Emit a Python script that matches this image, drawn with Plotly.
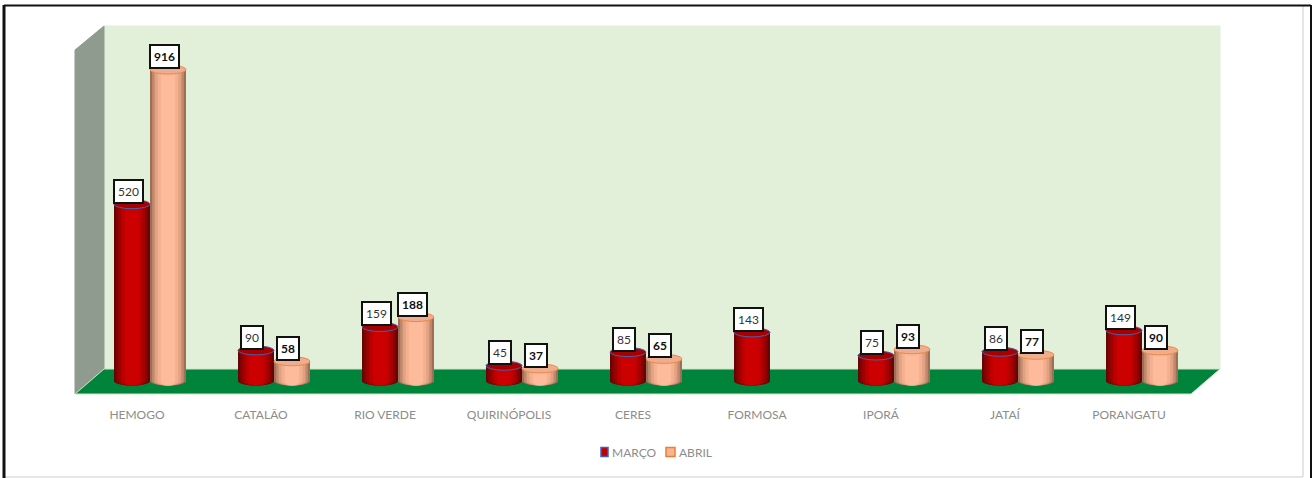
import plotly.graph_objects as go

W, H = 1312, 478
categories = ["HEMOGO", "CATALÃO", "RIO VERDE", "QUIRINÓPOLIS", "CERES", "FORMOSA", "IPORÁ", "JATAÍ", "PORANGATU"]
marco = [520, 90, 159, 45, 85, 143, 75, 86, 149]
abril = [916, 58, 188, 37, 65, None, 93, 77, 90]

# axis geometry
PX_LEFT, PX_RIGHT = 75, 1191
PX_BOTTOM, PX_TOP = 394, 26
PX_ZERO = 381
PX_PER_UNIT = 0.34
PX_PER_CAT = (PX_RIGHT - PX_LEFT) / 9
y_min = -(PX_BOTTOM - PX_ZERO) / PX_PER_UNIT
y_max = (PX_ZERO - PX_TOP) / PX_PER_UNIT
BAR_W = 36 / PX_PER_CAT
CAP_H = 4.5 / PX_PER_UNIT
OFF_M, OFF_A = -5 / PX_PER_CAT, 31 / PX_PER_CAT

def px(x): return x / W
def py(y): return 1 - y / H
def poly(pts, color, line=None):
    path = "M" + " L".join(f"{px(a)},{py(b)}" for a, b in pts) + " Z"
    return dict(type="path", xref="paper", yref="paper", path=path, fillcolor=color,
                line=dict(color=line or color, width=1), layer="below")
def frame_line(x0, y0, x1, y1, color, width):
    return dict(type="line", xref="paper", yref="paper", x0=px(x0), y0=py(y0), x1=px(x1), y1=py(y1),
                line=dict(color=color, width=width), layer="above")

red_steps = ["#640606", "#860303", "#a30101", "#bb0000", "#cc0000"]
peach_steps = ["#a06e54", "#c08a6e", "#dfa283", "#f3af90", "#fdbb9c"]
step_w = [1.0, 0.88, 0.74, 0.58, 0.4]

fig = go.Figure()
shapes = [
    poly([(104, 26), (1220, 26), (1220, 369), (104, 369)], "#E2EFD9"),
    poly([(75, 50), (104, 26), (104, 369), (75, 394)], "#8F9B8E"),
    poly([(75, 394), (1191, 394), (1220, 369), (104, 369)], "#00843C", "#CFE3C5"),
]

def add_series(vals, offset, steps, rim, cap, name):
    xs = [i + offset for i in range(len(vals))]
    for color, k in zip(steps, step_w):
        fig.add_trace(go.Bar(x=xs, y=vals, width=BAR_W * k, name=name,
                             marker=dict(color=color, line=dict(width=0)),
                             showlegend=False, hoverinfo="skip"))
        for x, v in zip(xs, vals):
            if v is None:
                continue
            shapes.append(dict(type="circle", xref="x", yref="y", layer="below", fillcolor=color,
                               x0=x - BAR_W * k / 2, x1=x + BAR_W * k / 2, y0=-CAP_H, y1=CAP_H,
                               line=dict(width=0)))
    for x, v in zip(xs, vals):
        if v is None:
            continue
        shapes.append(dict(type="circle", xref="x", yref="y", layer="above", fillcolor=cap,
                           x0=x - BAR_W / 2, x1=x + BAR_W / 2, y0=v - CAP_H, y1=v + CAP_H,
                           line=dict(color=rim, width=1)))

add_series(marco, OFF_M, red_steps, "#4A5FA8", "#A80000", "MARÇO")
add_series(abril, OFF_A, peach_steps, "#ED8A45", "#EFAD90", "ABRIL")

def add_labels(vals, offset, bold, dx):
    for i, v in enumerate(vals):
        if v is None:
            continue
        txt = f"<b>{v}</b>" if bold else str(v)
        fig.add_annotation(x=i + offset, y=v, text=txt, showarrow=False, xref="x", yref="y",
                           xshift=dx, yshift=13, bgcolor="white", bordercolor="#111111", borderwidth=2,
                           borderpad=3, font=dict(family="Lato", size=12, color="#333333" if not bold else "#111111"))

add_labels(marco, OFF_M, False, -4)
add_labels(abril, OFF_A, True, -4)

# legend: small swatches with real text beside them
LEGEND_Y = 452
for name, sx, sw, fill, rim in [("MARÇO", 601, 7, "#C00000", "#3F5FBF"), ("ABRIL", 666, 9, "#F8B595", "#ED7D31")]:
    shapes.append(dict(type="rect", xref="paper", yref="paper", layer="above", fillcolor=fill,
                       x0=px(sx), x1=px(sx + sw), y0=py(LEGEND_Y + 4.5), y1=py(LEGEND_Y - 4.5),
                       line=dict(color=rim, width=1.5)))
    fig.add_annotation(x=px(sx + sw + 3), y=py(LEGEND_Y), xref="paper", yref="paper", text=name,
                       showarrow=False, xanchor="left", yanchor="middle", borderpad=0,
                       font=dict(family="Lato", size=12, color="#8C8C8C"))

# outer frame
shapes += [
    frame_line(1303, 5, 1303, 477, "#E6E6E6", 2),
    frame_line(3, 477, 1303, 477, "#E6E6E6", 2),
    frame_line(4, 5.5, 1311, 5.5, "#111111", 2),
    frame_line(4, 5, 4, 478, "#111111", 3),
    frame_line(1311, 5, 1311, 478, "#111111", 2),
]

fig.update_layout(
    width=W, height=H, autosize=False, margin=dict(l=0, r=0, t=0, b=0),
    paper_bgcolor="white", plot_bgcolor="rgba(0,0,0,0)", barmode="overlay", shapes=shapes,
    showlegend=False,
    xaxis=dict(domain=[px(PX_LEFT), px(PX_RIGHT)], range=[-0.5, 8.5], tickmode="array",
               tickvals=list(range(9)), ticktext=categories, showgrid=False, zeroline=False,
               showline=False, ticks="", ticklabelstandoff=12,
               tickfont=dict(family="Lato", size=12, color="#8C8C8C")),
    yaxis=dict(domain=[py(PX_BOTTOM), py(PX_TOP)], range=[y_min, y_max], visible=False),
)

fig.write_html("out.html", config=dict(displayModeBar=False), post_script="document.body.style.margin='0';")
